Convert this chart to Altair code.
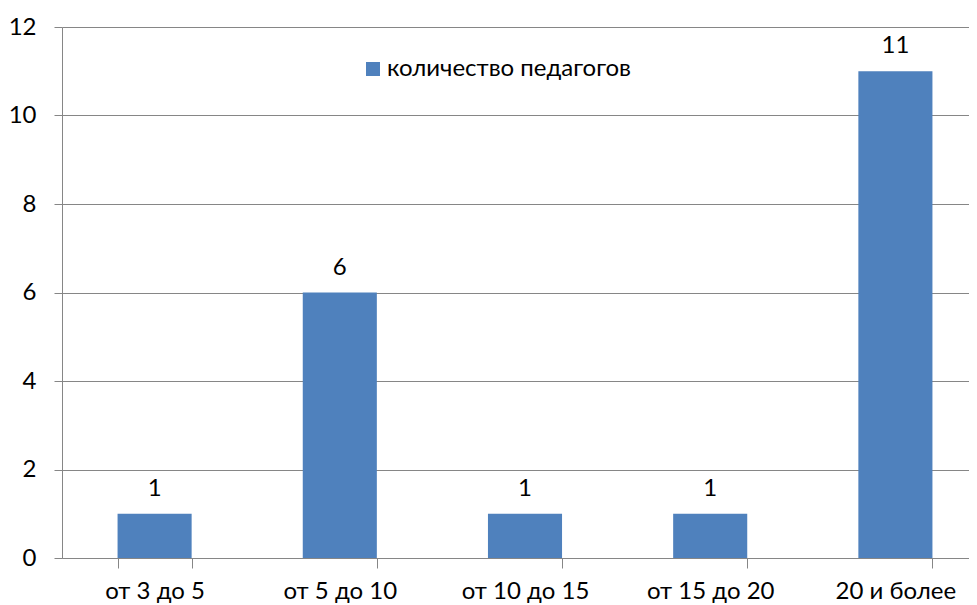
import altair as alt
import pandas as pd

categories = ["от 3 до 5", "от 5 до 10", "от 10 до 15", "от 15 до 20", "20 и более"]
values = [1, 6, 1, 1, 11]
series_name = "количество педагогов"

df = pd.DataFrame({"cat": categories, "val": values, "series": [series_name] * len(categories)})

FONT = "Lato"
FS = 24
GRAY = "#868686"
BLUE = "#4F81BD"

x = alt.X("cat:N", sort=categories, title=None,
          scale=alt.Scale(paddingInner=0.6, paddingOuter=0.3, range=[0, 926]),
          axis=alt.Axis(labelAngle=0, labelFont=FONT, labelFontSize=FS, labelColor="black",
                        domainColor=GRAY, tickColor=GRAY, tickSize=10, tickBand="extent",
                        labelPadding=11, grid=False, labelLimit=300))

bars = alt.Chart(df).mark_bar(color=BLUE).encode(
    x=x,
    y=alt.Y("val:Q", title=None,
            scale=alt.Scale(domain=[0, 12], nice=False),
            axis=alt.Axis(values=[0, 2, 4, 6, 8, 10, 12], labelFont=FONT, labelFontSize=FS,
                          labelColor="black", domainColor=GRAY, tickColor=GRAY, tickSize=8,
                          gridColor=GRAY, gridWidth=1, labelPadding=18)),
    color=alt.Color("series:N", scale=alt.Scale(range=[BLUE]),
                    legend=alt.Legend(title=None, orient="none", legendX=299, legendY=30,
                                      symbolType="square", symbolSize=196, symbolStrokeWidth=0,
                                      labelFont=FONT, labelFontSize=FS, labelColor="black",
                                      padding=0, labelOffset=2, labelLimit=500)),
)

labels = alt.Chart(df).mark_text(font=FONT, fontSize=FS, color="black", dy=-25, baseline="middle").encode(
    x=alt.X("cat:N", sort=categories),
    y="val:Q",
    text="val:Q",
)

chart = (bars + labels).properties(
    width=907, height=531,
    autosize=alt.AutoSizeParams(type="none"),
    padding={"left": 54, "top": 19, "right": 0, "bottom": 47},
).configure_view(stroke=None)

chart.save("out.html", embed_options={"renderer": "svg", "actions": False})
